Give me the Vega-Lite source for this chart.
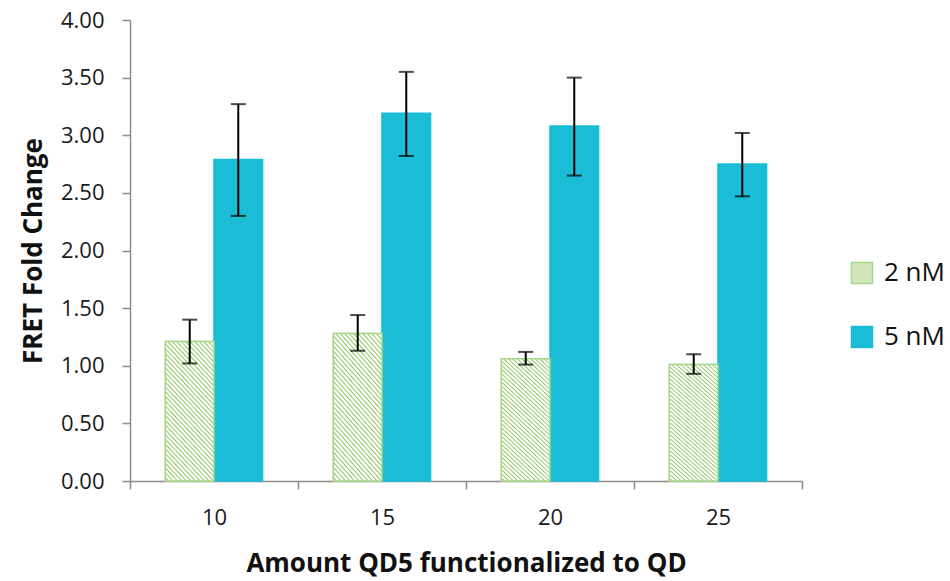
{
  "$schema": "https://vega.github.io/schema/vega-lite/v6.json",
  "width": 672,
  "height": 461,
  "autosize": "none",
  "padding": {"left": 130, "top": 20, "right": 148, "bottom": 100},
  "background": "white",
  "config": {"view": {"stroke": null}, "font": "Open Sans"},
  "data": {"values": [
    {"amount": "10", "series": "2 nM", "value": 1.21, "lo": 1.02, "hi": 1.40},
    {"amount": "10", "series": "5 nM", "value": 2.79, "lo": 2.30, "hi": 3.27},
    {"amount": "15", "series": "2 nM", "value": 1.28, "lo": 1.13, "hi": 1.44},
    {"amount": "15", "series": "5 nM", "value": 3.19, "lo": 2.82, "hi": 3.55},
    {"amount": "20", "series": "2 nM", "value": 1.06, "lo": 1.01, "hi": 1.12},
    {"amount": "20", "series": "5 nM", "value": 3.08, "lo": 2.65, "hi": 3.50},
    {"amount": "25", "series": "2 nM", "value": 1.01, "lo": 0.93, "hi": 1.10},
    {"amount": "25", "series": "5 nM", "value": 2.75, "lo": 2.47, "hi": 3.02}
  ]},
  "encoding": {
    "x": {
      "field": "amount", "type": "nominal",
      "scale": {"paddingInner": 0, "paddingOuter": 0},
      "axis": {
        "title": "Amount QD5 functionalized to QD",
        "labelAngle": 0, "tickBand": "extent",
        "labelFontSize": 22, "labelColor": "#1a1a1a", "labelPadding": 18,
        "tickSize": 8, "tickColor": "#8c8c8c", "tickWidth": 1.5,
        "domainColor": "#8c8c8c", "domainWidth": 1.5,
        "titleFontSize": 26, "titleFontWeight": "bold", "titleColor": "#111", "titlePadding": 22
      }
    },
    "xOffset": {"field": "series", "type": "nominal", "scale": {"domain": ["2 nM", "5 nM"], "paddingInner": 0, "paddingOuter": 0.73}}
  },
  "layer": [
    {
      "mark": {"type": "bar", "strokeWidth": 1.5},
      "encoding": {
        "y": {"field": "value", "type": "quantitative", "scale": {"domain": [0, 4], "nice": false},
          "axis": {"title": "FRET Fold Change", "values": [0, 0.5, 1, 1.5, 2, 2.5, 3, 3.5, 4], "format": ".2f",
            "labelFontSize": 22, "labelColor": "#1a1a1a", "labelPadding": 18, "tickSize": 8, "tickColor": "#8c8c8c", "tickWidth": 1.5,
            "domainColor": "#8c8c8c", "domainWidth": 1.5, "grid": false,
            "titleFontSize": 26, "titleFontWeight": "bold", "titleColor": "#111", "titlePadding": 14}},
        "fill": {"field": "series", "type": "nominal",
          "scale": {"domain": ["2 nM", "5 nM"], "range": ["#CFE7B8", "#1ABCD6"]},
          "legend": {"title": null, "orient": "none", "legendX": 719, "legendY": 240, "symbolType": "square", "symbolSize": 441,
            "labelFontSize": 26, "labelColor": "#111", "rowPadding": 36, "labelOffset": 9, "symbolStrokeWidth": 1.5}
        },
        "stroke": {"field": "series", "type": "nominal",
          "scale": {"domain": ["2 nM", "5 nM"], "range": ["#A9D68C", "#1ABCD6"]},
          "legend": {"title": null, "orient": "none", "legendX": 719, "legendY": 240, "symbolType": "square", "symbolSize": 441,
            "labelFontSize": 26, "labelColor": "#111", "rowPadding": 36, "labelOffset": 9, "symbolStrokeWidth": 1.5}
        }
      }
    },
    {
      "transform": [{"filter": "datum.series === '2 nM'"}],
      "mark": {"type": "bar", "strokeWidth": 1.5, "stroke": "#A9D68C",
        "fill": {"gradient": "linear", "x1": 0, "y1": 1, "x2": 0.446, "y2": -0.205, "stops": [
          {"offset": 0.000, "color": "#ffffff"}, {"offset": 0.010, "color": "#ffffff"}, {"offset": 0.0175, "color": "#8CC65E"},
          {"offset": 0.025, "color": "#ffffff"}, {"offset": 0.035, "color": "#ffffff"}, {"offset": 0.0425, "color": "#8CC65E"},
          {"offset": 0.050, "color": "#ffffff"}, {"offset": 0.060, "color": "#ffffff"}, {"offset": 0.0675, "color": "#8CC65E"},
          {"offset": 0.075, "color": "#ffffff"}, {"offset": 0.085, "color": "#ffffff"}, {"offset": 0.0925, "color": "#8CC65E"},
          {"offset": 0.100, "color": "#ffffff"}, {"offset": 0.110, "color": "#ffffff"}, {"offset": 0.1175, "color": "#8CC65E"},
          {"offset": 0.125, "color": "#ffffff"}, {"offset": 0.135, "color": "#ffffff"}, {"offset": 0.1425, "color": "#8CC65E"},
          {"offset": 0.150, "color": "#ffffff"}, {"offset": 0.160, "color": "#ffffff"}, {"offset": 0.1675, "color": "#8CC65E"},
          {"offset": 0.175, "color": "#ffffff"}, {"offset": 0.185, "color": "#ffffff"}, {"offset": 0.1925, "color": "#8CC65E"},
          {"offset": 0.200, "color": "#ffffff"}, {"offset": 0.210, "color": "#ffffff"}, {"offset": 0.2175, "color": "#8CC65E"},
          {"offset": 0.225, "color": "#ffffff"}, {"offset": 0.235, "color": "#ffffff"}, {"offset": 0.2425, "color": "#8CC65E"},
          {"offset": 0.250, "color": "#ffffff"}, {"offset": 0.260, "color": "#ffffff"}, {"offset": 0.2675, "color": "#8CC65E"},
          {"offset": 0.275, "color": "#ffffff"}, {"offset": 0.285, "color": "#ffffff"}, {"offset": 0.2925, "color": "#8CC65E"},
          {"offset": 0.300, "color": "#ffffff"}, {"offset": 0.310, "color": "#ffffff"}, {"offset": 0.3175, "color": "#8CC65E"},
          {"offset": 0.325, "color": "#ffffff"}, {"offset": 0.335, "color": "#ffffff"}, {"offset": 0.3425, "color": "#8CC65E"},
          {"offset": 0.350, "color": "#ffffff"}, {"offset": 0.360, "color": "#ffffff"}, {"offset": 0.3675, "color": "#8CC65E"},
          {"offset": 0.375, "color": "#ffffff"}, {"offset": 0.385, "color": "#ffffff"}, {"offset": 0.3925, "color": "#8CC65E"},
          {"offset": 0.400, "color": "#ffffff"}, {"offset": 0.410, "color": "#ffffff"}, {"offset": 0.4175, "color": "#8CC65E"},
          {"offset": 0.425, "color": "#ffffff"}, {"offset": 0.435, "color": "#ffffff"}, {"offset": 0.4425, "color": "#8CC65E"},
          {"offset": 0.450, "color": "#ffffff"}, {"offset": 0.460, "color": "#ffffff"}, {"offset": 0.4675, "color": "#8CC65E"},
          {"offset": 0.475, "color": "#ffffff"}, {"offset": 0.485, "color": "#ffffff"}, {"offset": 0.4925, "color": "#8CC65E"},
          {"offset": 0.500, "color": "#ffffff"}, {"offset": 0.510, "color": "#ffffff"}, {"offset": 0.5175, "color": "#8CC65E"},
          {"offset": 0.525, "color": "#ffffff"}, {"offset": 0.535, "color": "#ffffff"}, {"offset": 0.5425, "color": "#8CC65E"},
          {"offset": 0.550, "color": "#ffffff"}, {"offset": 0.560, "color": "#ffffff"}, {"offset": 0.5675, "color": "#8CC65E"},
          {"offset": 0.575, "color": "#ffffff"}, {"offset": 0.585, "color": "#ffffff"}, {"offset": 0.5925, "color": "#8CC65E"},
          {"offset": 0.600, "color": "#ffffff"}, {"offset": 0.610, "color": "#ffffff"}, {"offset": 0.6175, "color": "#8CC65E"},
          {"offset": 0.625, "color": "#ffffff"}, {"offset": 0.635, "color": "#ffffff"}, {"offset": 0.6425, "color": "#8CC65E"},
          {"offset": 0.650, "color": "#ffffff"}, {"offset": 0.660, "color": "#ffffff"}, {"offset": 0.6675, "color": "#8CC65E"},
          {"offset": 0.675, "color": "#ffffff"}, {"offset": 0.685, "color": "#ffffff"}, {"offset": 0.6925, "color": "#8CC65E"},
          {"offset": 0.700, "color": "#ffffff"}, {"offset": 0.710, "color": "#ffffff"}, {"offset": 0.7175, "color": "#8CC65E"},
          {"offset": 0.725, "color": "#ffffff"}, {"offset": 0.735, "color": "#ffffff"}, {"offset": 0.7425, "color": "#8CC65E"},
          {"offset": 0.750, "color": "#ffffff"}, {"offset": 0.760, "color": "#ffffff"}, {"offset": 0.7675, "color": "#8CC65E"},
          {"offset": 0.775, "color": "#ffffff"}, {"offset": 0.785, "color": "#ffffff"}, {"offset": 0.7925, "color": "#8CC65E"},
          {"offset": 0.800, "color": "#ffffff"}, {"offset": 0.810, "color": "#ffffff"}, {"offset": 0.8175, "color": "#8CC65E"},
          {"offset": 0.825, "color": "#ffffff"}, {"offset": 0.835, "color": "#ffffff"}, {"offset": 0.8425, "color": "#8CC65E"},
          {"offset": 0.850, "color": "#ffffff"}, {"offset": 0.860, "color": "#ffffff"}, {"offset": 0.8675, "color": "#8CC65E"},
          {"offset": 0.875, "color": "#ffffff"}, {"offset": 0.885, "color": "#ffffff"}, {"offset": 0.8925, "color": "#8CC65E"},
          {"offset": 0.900, "color": "#ffffff"}, {"offset": 0.910, "color": "#ffffff"}, {"offset": 0.9175, "color": "#8CC65E"},
          {"offset": 0.925, "color": "#ffffff"}, {"offset": 0.935, "color": "#ffffff"}, {"offset": 0.9425, "color": "#8CC65E"},
          {"offset": 0.950, "color": "#ffffff"}, {"offset": 0.960, "color": "#ffffff"}, {"offset": 0.9675, "color": "#8CC65E"},
          {"offset": 0.975, "color": "#ffffff"}, {"offset": 0.985, "color": "#ffffff"}, {"offset": 0.9925, "color": "#8CC65E"},
          {"offset": 1.000, "color": "#ffffff"}
        ]}
      },
      "encoding": {
        "y": {"field": "value", "type": "quantitative", "axis": {"title": "FRET Fold Change"}}
      }
    },
    {
      "mark": {"type": "rule", "color": "black", "strokeWidth": 2},
      "encoding": {
        "y": {"field": "lo", "type": "quantitative", "axis": {"title": "FRET Fold Change"}},
        "y2": {"field": "hi"}
      }
    },
    {
      "mark": {"type": "tick", "color": "black", "thickness": 2, "size": 15},
      "encoding": {"y": {"field": "lo", "type": "quantitative", "axis": {"title": "FRET Fold Change"}}}
    },
    {
      "mark": {"type": "tick", "color": "black", "thickness": 2, "size": 15},
      "encoding": {"y": {"field": "hi", "type": "quantitative", "axis": {"title": "FRET Fold Change"}}}
    }
  ]
}
